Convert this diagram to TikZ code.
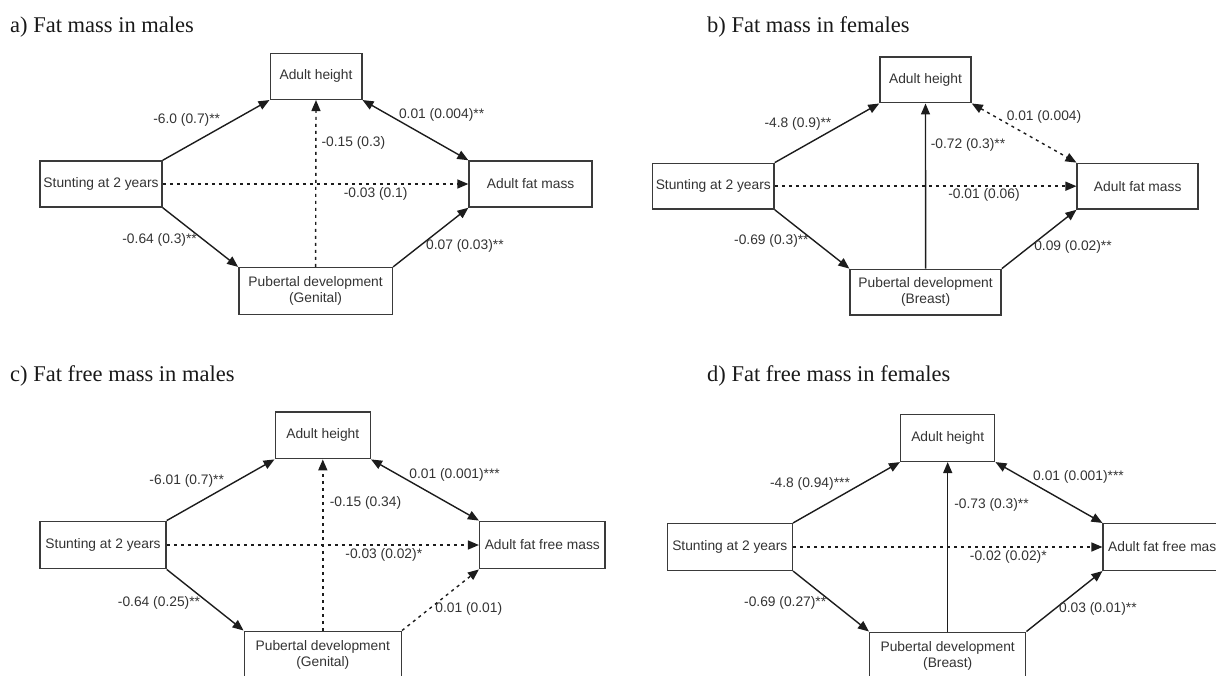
\documentclass[tikz,border=0pt]{standalone}
\usepackage{fontspec}
\setmainfont{Liberation Serif}
\newfontfamily\boxfont{Liberation Sans}
\usetikzlibrary{arrows.meta}
\definecolor{boxline}{HTML}{3A3A3A}
\definecolor{boxtext}{HTML}{333333}
\definecolor{pathline}{HTML}{1C1C1C}

\begin{document}
\begin{tikzpicture}[x=1pt,y=-1pt,
    var/.style={draw=boxline, line width=1.5pt, inner sep=0pt, minimum height=46pt,
      align=center, text=boxtext, font=\boxfont\fontsize{13.8}{16}\selectfont},
    coef/.style={text=boxtext, inner sep=0pt, font=\boxfont\fontsize{13.8}{16}\selectfont},
    panel/.style={anchor=base west, inner sep=0pt, text=black!90,
      font=\fontsize{22.5}{26}\selectfont},
    effect/.style={draw=pathline, line width=1.4pt, -{Triangle[length=11pt,width=9pt]}},
    weak/.style={effect, dash pattern=on 3pt off 4pt},
    both/.style={{Triangle[length=11pt,width=9pt]}-{Triangle[length=11pt,width=9pt]}}]
  \useasboundingbox (0,0) rectangle (1216,676);

  % a) fat mass, males
  \node[panel] (titleA) at (10,33) {a) Fat mass in males};
  \node[var, minimum width=91.5pt] (heightA) at (316,76.3) {Adult height};
  \node[var, minimum width=122pt] (stuntA) at (101,184) {Stunting at 2 years};
  \node[var, minimum width=123pt] (fatA) at (530.6,184) {Adult fat mass};
  \node[var, minimum width=153.5pt, minimum height=46.7pt] (pubA) at (315.6,291)
    {Pubertal development\\(Genital)};
  \draw[effect] (stuntA.north east) -- (heightA.south west);
  \draw[effect, both] (heightA.south east) -- (fatA.north west);
  \draw[weak] (pubA.north) -- (heightA.south);
  \draw[weak] (stuntA.east) -- (fatA.west);
  \draw[effect] (stuntA.south east) -- (pubA.north west);
  \draw[effect] (pubA.north east) -- (fatA.south west);
  \node[coef] (coefA1) at (186.7,120) {-6.0 (0.7)**};
  \node[coef] (coefA2) at (441.6,115) {0.01 (0.004)**};
  \node[coef] (coefA3) at (353.4,142.7) {-0.15 (0.3)};
  \node[coef] (coefA4) at (375.7,194) {-0.03 (0.1)};
  \node[coef] (coefA5) at (159.6,240) {-0.64 (0.3)**};
  \node[coef] (coefA6) at (464.9,246) {0.07 (0.03)**};

  % b) fat mass, females
  \node[panel] (titleB) at (707,33) {b) Fat mass in females};
  \node[var, minimum width=91pt, minimum height=45.5pt] (heightB) at (925.5,80) {Adult height};
  \node[var, minimum width=121.4pt, minimum height=45.7pt] (stuntB) at (713.3,186.2) {Stunting at 2 years};
  \node[var, minimum width=121pt, minimum height=45.7pt] (fatB) at (1137.7,186.2) {Adult fat mass};
  \node[var, minimum width=151pt, minimum height=45.7pt] (pubB) at (925.6,292.2)
    {Pubertal development\\(Breast)};
  \draw[effect] (stuntB.north east) -- (heightB.south west);
  \draw[weak, both] (heightB.south east) -- (fatB.north west);
  \draw[effect] (pubB.north) -- (heightB.south);
  \draw[weak] (stuntB.east) -- (fatB.west);
  \draw[effect] (stuntB.south east) -- (pubB.north west);
  \draw[effect] (pubB.north east) -- (fatB.south west);
  \node[coef] (coefB1) at (798,124) {-4.8 (0.9)**};
  \node[coef] (coefB2) at (1044,117) {0.01 (0.004)};
  \node[coef] (coefB3) at (968,145) {-0.72 (0.3)**};
  \node[coef] (coefB4) at (984,195) {-0.01 (0.06)};
  \node[coef] (coefB5) at (771.4,241) {-0.69 (0.3)**};
  \node[coef] (coefB6) at (1073,247) {0.09 (0.02)**};

  % c) fat free mass, males
  \node[panel] (titleC) at (10,381.5) {c) Fat free mass in males};
  \node[var, minimum width=95pt, minimum height=46.7pt] (heightC) at (322.8,435.3) {Adult height};
  \node[var, minimum width=126pt, minimum height=47.4pt] (stuntC) at (103,545) {Stunting at 2 years};
  \node[var, minimum width=125.3pt, minimum height=47.4pt] (fatC) at (542.3,545) {Adult fat free mass};
  \node[var, minimum width=157pt, minimum height=46.7pt] (pubC) at (322.8,654.6)
    {Pubertal development\\(Genital)};
  \draw[effect] (stuntC.north east) -- (heightC.south west);
  \draw[effect, both] (heightC.south east) -- (fatC.north west);
  \draw[weak] (pubC.north) -- (heightC.south);
  \draw[weak] (stuntC.east) -- (fatC.west);
  \draw[effect] (stuntC.south east) -- (pubC.north west);
  \draw[weak] (pubC.north east) -- (fatC.south west);
  \node[coef] (coefC1) at (186.7,481.3) {-6.01 (0.7)**};
  \node[coef] (coefC2) at (454.6,474.7) {0.01 (0.001)***};
  \node[coef] (coefC3) at (365.5,503) {-0.15 (0.34)};
  \node[coef] (coefC4) at (383.8,555.3) {-0.03 (0.02)*};
  \node[coef] (coefC5) at (159,603) {-0.64 (0.25)**};
  \node[coef] (coefC6) at (468.8,608.7) {0.01 (0.01)};

  % d) fat free mass, females
  \node[panel] (titleD) at (707,381.5) {d) Fat free mass in females};
  \node[var, minimum width=94pt, minimum height=46.7pt] (heightD) at (947.7,438) {Adult height};
  \node[var, minimum width=125pt, minimum height=46.6pt] (stuntD) at (729.8,547) {Stunting at 2 years};
  \node[var, minimum width=125pt, minimum height=46.6pt] (fatD) at (1165.7,547) {Adult fat free mass};
  \node[var, minimum width=156pt, minimum height=46.7pt] (pubD) at (947.7,655.6)
    {Pubertal development\\(Breast)};
  \draw[effect] (stuntD.north east) -- (heightD.south west);
  \draw[effect, both] (heightD.south east) -- (fatD.north west);
  \draw[effect] (pubD.north) -- (heightD.south);
  \draw[weak] (stuntD.east) -- (fatD.west);
  \draw[effect] (stuntD.south east) -- (pubD.north west);
  \draw[effect] (pubD.north east) -- (fatD.south west);
  \node[coef] (coefD1) at (810,483.7) {-4.8 (0.94)***};
  \node[coef] (coefD2) at (1078.5,477) {0.01 (0.001)***};
  \node[coef] (coefD3) at (991.5,504.7) {-0.73 (0.3)**};
  \node[coef] (coefD4) at (1008.3,557) {-0.02 (0.02)*};
  \node[coef] (coefD5) at (785.2,603) {-0.69 (0.27)**};
  \node[coef] (coefD6) at (1097.9,608.7) {0.03 (0.01)**};
\end{tikzpicture}
\end{document}
